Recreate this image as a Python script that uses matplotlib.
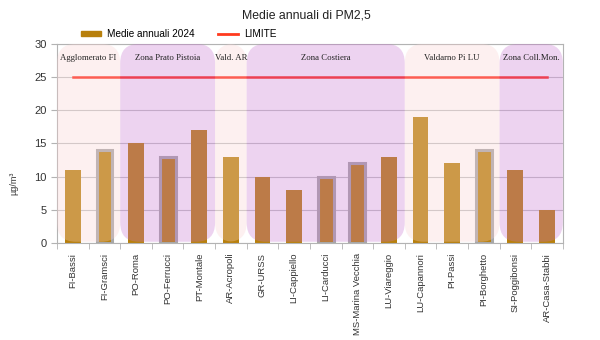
import matplotlib.pyplot as plt
import numpy as np
from matplotlib.patches import FancyBboxPatch, Patch
from matplotlib.lines import Line2D

plt.rcParams["font.family"] = ["Liberation Sans", "DejaVu Sans"]

stations = ["FI-Bassi", "FI-Gramsci", "PO-Roma", "PO-Ferrucci", "PT-Montale",
            "AR-Acropoli", "GR-URSS", "LI-Cappiello", "LI-Carducci",
            "MS-Marina Vecchia", "LU-Viareggio", "LU-Capannori", "PI-Passi",
            "PI-Borghetto", "SI-Poggibonsi", "AR-Casa-Stabbi"]
medie_2024 = [11, 14, 15, 13, 17, 13, 10, 8, 10, 12, 13, 19, 12, 14, 11, 5]
limite = [25] * len(stations)
outlined = ["FI-Gramsci", "PO-Ferrucci", "LI-Carducci", "MS-Marina Vecchia", "PI-Borghetto"]

# zones: name, first station index, last station index, kind
zone_names = ["Agglomerato FI", "Zona Prato Pistoia", "Vald. AR", "Zona Costiera",
              "Valdarno Pi LU", "Zona Coll.Mon."]
zone_start = [0, 2, 5, 6, 11, 14]
zone_end = [1, 4, 5, 10, 13, 15]
zone_kind = ["pink", "purple", "pink", "purple", "pink", "purple"]

overlay = {"pink": (0.98, 0.82, 0.82), "purple": (0.78, 0.45, 0.82)}

fig = plt.figure(figsize=(6, 3.4), dpi=100)
ax = fig.add_axes([0.095, 0.285, 0.843, 0.586])

x = np.arange(len(stations))
bar_color = "#b8800c"
ax.bar(x, medie_2024, width=0.5, color=bar_color, zorder=2)
for i, name in enumerate(stations):
  if name in outlined:
    ax.bar(i, medie_2024[i], width=0.5, color="none", edgecolor="#a8a8a8",
           linewidth=2.2, zorder=2.5)

ax.plot(x, limite, color="#ff2a1a", linewidth=1.8, zorder=3)

aspect = (30 / 199) / (1 / 31.6)
for name, s, e, kind in zip(zone_names, zone_start, zone_end, zone_kind):
  x0 = s - 0.5
  w = e - s + 1
  box = FancyBboxPatch((x0, 0.2), w, 29.8,
                       boxstyle="round,pad=0,rounding_size=0.6",
                       mutation_aspect=aspect, facecolor=overlay[kind],
                       edgecolor="none", alpha=0.31, zorder=4)
  ax.add_patch(box)
  ax.text(x0 + w / 2, 27.8, name, ha="center", va="center", fontsize=6.3,
          family="Liberation Serif", color="#222222", zorder=5)

ax.set_xlim(-0.5, len(stations) - 0.5)
ax.set_ylim(0, 30)
ax.set_yticks(range(0, 31, 5))
ax.set_xticks(x)
ax.set_xticklabels(stations, rotation=90, fontsize=6.8, color="#333333")
ax.set_xticks(np.arange(-0.5, len(stations)), minor=True)
ax.tick_params(axis="x", which="major", length=0, pad=7)
ax.tick_params(axis="x", which="minor", length=4, color="#b3b3b3")
ax.tick_params(axis="y", length=4, color="#b3b3b3", labelsize=8, labelcolor="#333333")
ax.grid(axis="y", color="#c4c4c4", linewidth=0.8, zorder=0)
ax.set_axisbelow(True)
for sp in ax.spines.values():
  sp.set_color("#b3b3b3")

ax.set_ylabel("µg/m³", fontsize=6.5, color="#333333")
ax.yaxis.set_label_coords(-0.077, 0.3)

fig.text(0.51, 0.953, "Medie annuali di PM2,5", ha="center", va="center",
         fontsize=8.8, color="#222222")
handles = [Patch(color=bar_color, label="Medie annuali 2024"),
           Line2D([0], [0], color="#ff3a1e", linewidth=2, label="LIMITE")]
fig.legend(handles=handles, loc="center", bbox_to_anchor=(0.298, 0.9), ncol=2,
           frameon=False, fontsize=7.2, handlelength=2.0, handleheight=0.5,
           columnspacing=2.3, handletextpad=0.6)

fig.savefig("out.png", dpi=100)
